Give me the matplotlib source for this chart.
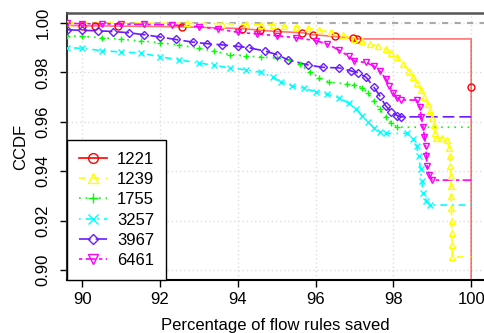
import matplotlib
matplotlib.use("Agg")
import matplotlib.pyplot as plt

plt.rcParams['font.family'] = ['Liberation Sans', 'DejaVu Sans']

# series (x = % of flow rules saved, y = CCDF)
x_1221 = [89.62, 90.0, 90.33, 90.93, 92.57, 94.11, 94.58, 95.01, 95.66, 95.94, 96.5, 96.97, 97.07, 100.0, 100.0, 100.0]
y_1221 = [0.9990, 0.9988, 0.9988, 0.9987, 0.9984, 0.9977, 0.9970, 0.9965, 0.9960, 0.9952, 0.9945, 0.9938, 0.9935, 0.9935, 0.9740, 0.8800]

x_1239 = [89.62, 92.7, 93.6, 94.2, 94.6, 94.9, 95.2, 95.5, 95.8, 96.1, 96.4, 96.7, 97.0, 97.2, 97.4,
          97.6, 97.8, 97.95, 98.1, 98.25, 98.4, 98.5, 98.6, 98.7, 98.8, 98.9, 98.95, 99.0, 99.05, 99.08,
          99.1, 99.25, 99.38, 99.43, 99.45, 99.46, 99.47, 99.48, 99.49, 99.49, 99.5, 99.5, 99.51, 99.51, 100.0]
y_1239 = [1.0, 0.9998, 0.9997, 0.9994, 0.9993, 0.9991, 0.9988, 0.9984, 0.9978, 0.9970, 0.9962, 0.9950, 0.9935, 0.9925, 0.9915,
          0.9905, 0.9895, 0.9880, 0.9860, 0.9835, 0.9805, 0.9780, 0.9755, 0.9730, 0.9700, 0.9670, 0.9645, 0.9615, 0.9585, 0.9555,
          0.9535, 0.9535, 0.9525, 0.9495, 0.9460, 0.9420, 0.9380, 0.9340, 0.9300, 0.9250, 0.9200, 0.9150, 0.9100, 0.9053, 0.9053]

x_1755 = [89.62, 90.0, 90.5, 91.0, 91.5, 92.0, 92.5, 93.0, 93.4, 93.8, 94.2, 94.6, 95.0, 95.35, 95.6, 95.85, 96.1,
          96.35, 96.8, 97.0, 97.2, 97.35, 97.5, 97.65, 97.8, 97.95, 98.1, 100.0]
y_1755 = [0.9948, 0.9945, 0.9940, 0.9934, 0.9927, 0.9920, 0.9910, 0.9897, 0.9885, 0.9872, 0.9866, 0.9862, 0.9858, 0.9850,
          0.9832, 0.9802, 0.9778, 0.9760, 0.9753, 0.9748, 0.9738, 0.9715, 0.9685, 0.9650, 0.9620, 0.9595, 0.9578, 0.9578]

x_3257 = [89.62, 90.0, 90.5, 91.0, 91.5, 92.0, 92.5, 93.0, 93.4, 93.8, 94.2, 94.6, 94.9, 95.1, 95.4, 95.7, 96.0, 96.3,
          96.6, 96.85, 97.05, 97.2, 97.35, 97.5, 97.65, 97.8, 98.35, 98.5, 98.6, 98.65, 98.7, 98.73, 98.77, 98.85, 98.95, 100.0]
y_3257 = [0.9900, 0.9897, 0.9888, 0.9882, 0.9878, 0.9863, 0.9850, 0.9838, 0.9828, 0.9818, 0.9810, 0.9800, 0.9780, 0.9762,
          0.9745, 0.9735, 0.9722, 0.9712, 0.9697, 0.9675, 0.9650, 0.9625, 0.9600, 0.9575, 0.9558, 0.9553, 0.9553, 0.9530,
          0.9500, 0.9460, 0.9410, 0.9360, 0.9310, 0.9280, 0.9263, 0.9263]

x_3967 = [89.62, 90.0, 90.4, 90.8, 91.2, 91.6, 92.0, 92.4, 92.85, 93.2, 93.6, 94.0, 94.3, 94.7, 95.0, 95.3, 95.8, 96.2,
          96.6, 96.9, 97.1, 97.3, 97.5, 97.65, 97.8, 97.95, 98.1, 98.2, 100.0]
y_3967 = [0.9972, 0.9970, 0.9968, 0.9965, 0.9960, 0.9952, 0.9943, 0.9933, 0.9922, 0.9916, 0.9911, 0.9905, 0.9899, 0.9886,
          0.9872, 0.9850, 0.9830, 0.9820, 0.9818, 0.9806, 0.9798, 0.9780, 0.9740, 0.9705, 0.9665, 0.9640, 0.9625, 0.9620, 0.9620]

x_6461 = [89.62, 90.0, 90.5, 91.0, 91.6, 92.3, 93.0, 93.5, 94.0, 94.5, 95.0, 95.5, 96.0, 96.3, 96.6, 96.85, 97.0, 97.3,
          97.5, 97.65, 97.8, 97.9, 98.0, 98.1, 98.2, 98.6, 98.68, 98.72, 98.76, 98.8, 98.83, 98.85, 98.87, 98.92, 99.0, 100.0]
y_6461 = [0.9998, 0.9997, 0.9996, 0.9995, 0.9994, 0.9992, 0.9985, 0.9975, 0.9962, 0.9955, 0.9948, 0.9940, 0.9928, 0.9915,
          0.9890, 0.9865, 0.9845, 0.9840, 0.9825, 0.9805, 0.9775, 0.9745, 0.9715, 0.9695, 0.9688, 0.9688, 0.9660, 0.9620,
          0.9580, 0.9540, 0.9500, 0.9460, 0.9420, 0.9385, 0.9364, 0.9364]

series = [
    ("1221", x_1221, y_1221, "#FF0000", "-", "o"),
    ("1239", x_1239, y_1239, "#FFFF00", (0, (4, 4)), "^"),
    ("1755", x_1755, y_1755, "#00FF00", (0, (1, 3)), "+"),
    ("3257", x_3257, y_3257, "#00FFFF", (0, (1, 3, 4, 3)), "x"),
    ("3967", x_3967, y_3967, "#6A1BFF", (0, (7, 3)), "D"),
    ("6461", x_6461, y_6461, "#FF00FF", (0, (2, 2, 6, 2)), "v"),
]

fig = plt.figure(figsize=(4.84, 3.33), dpi=100)
ax = fig.add_axes([0.1384, 0.1592, 0.8616, 0.8018])

ax.axhline(1.0, color="#AAAAAA", linestyle=(0, (3, 3)), lw=1.5, zorder=1)

for name, xs, ys, col, ls, mk in series:
    n = len(xs)
    if name == "1221":
        marks = [i for i in range(1, n) if i not in (n - 3, n - 1)]
        line_alpha = 0.55
    else:
        marks = list(range(0, n - 1))
        line_alpha = 1.0
    ax.plot(xs, ys, color=col, linestyle=ls, lw=1.2, alpha=line_alpha, zorder=2)
    ms = 5 if mk != "D" else 4.2
    ax.plot([xs[i] for i in marks], [ys[i] for i in marks], linestyle="none",
            marker=mk, markersize=ms, markerfacecolor="none", markeredgecolor=col,
            markeredgewidth=1.0, zorder=3)

# legend handles
handles = []
for name, xs, ys, col, ls, mk in series:
    h, = ax.plot([], [], color=col, linestyle=ls, lw=1.2, marker=mk,
                 markersize=7 if mk != "D" else 5.5, markerfacecolor="none",
                 markeredgecolor=col, markeredgewidth=1.0, label=name)
    handles.append(h)
leg = ax.legend(handles=handles, loc="lower left", borderaxespad=0, fontsize=12,
                frameon=True, fancybox=False, framealpha=1, edgecolor="black",
                handlelength=1.7, handletextpad=0.6, labelspacing=0.32,
                borderpad=0.7)
leg.get_frame().set_linewidth(1.0)

ax.set_xlim(89.61, 100.33)
ax.set_ylim(0.896, 1.004)
ax.set_xticks([90, 92, 94, 96, 98, 100])
ax.set_yticks([0.90, 0.92, 0.94, 0.96, 0.98, 1.00])
ax.set_yticklabels(["0.90", "0.92", "0.94", "0.96", "0.98", "1.00"], rotation=90, va="center")
ax.tick_params(labelsize=12, length=5, width=1, direction="out")
ax.tick_params(axis="y", pad=7)
ax.grid(True, color="#DDDDDD", linestyle=(0, (1, 2)), lw=1)
ax.set_axisbelow(True)

ax.spines["right"].set_visible(False)
ax.spines["top"].set_color("#555555")
ax.spines["top"].set_linewidth(1.8)
ax.spines["left"].set_color("#333333")
ax.spines["left"].set_linewidth(1.5)
ax.spines["bottom"].set_linewidth(1.5)

ax.set_xlabel("Percentage of flow rules saved", fontsize=12, labelpad=8)
ax.set_ylabel("CCDF", fontsize=12, labelpad=5)

fig.savefig("out.png", dpi=100)
